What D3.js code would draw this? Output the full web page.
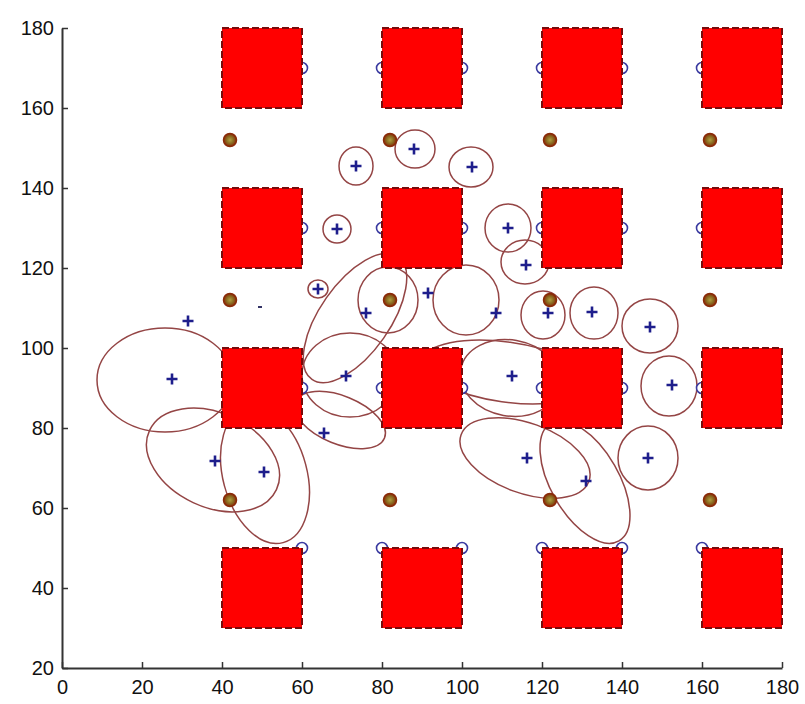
<!DOCTYPE html>
<html><head><meta charset="utf-8">
<script src="https://cdn.jsdelivr.net/npm/d3@7"></script>
<style>html,body{margin:0;padding:0;background:#fff;}</style>
</head><body>
<svg id="c" width="805" height="704"></svg>
<script>
// ---- data ----
const xTicks = [0,20,40,60,80,100,120,140,160,180];
const yTicks = [20,40,60,80,100,120,140,160,180];
// obstacle squares: [x0, x1] and [y0, y1] in data units
const squareXs = [[40,60],[80,100],[120,140],[160,180]];
const squareYs = [[30,50],[80,100],[120,140],[160,180]];
// anchor circles
const anchorXs = [60,80,100,120,140,160];
const anchorYs = [170,130,90,50];
// olive beacons
const beaconXs = [42,82,122,162];
const beaconYs = [152,112,62];
// estimated positions (plus markers)
const estX = [73.5,88,102.5,68.75,111.5,116,64,76,91.5,108.5,121.5,132.5,147,152.5,146.5,131,116.25,112.5,71,65.5,50.5,38.25,27.5,31.5];
const estY = [145.5,149.75,145.25,129.75,130,120.75,114.75,108.75,113.75,108.75,108.75,109,105.25,90.75,72.5,66.75,72.5,93,93,78.75,69,71.75,92.25,106.75];
// faint tiny estimate
const faintX = [49.5];
const faintY = [110.25];
// uncertainty ellipses: centre, semi-axes (data units), rotation (deg, ccw)
const ellCX = [73.5,88.25,102.25,68.75,111.5,115.75,64,81.5,101,120.25,133,147,151.75,146.5,130.75,115.75,112,111,73.25,72,69.5,25.75,37.75,50.75];
const ellCY = [145.5,149.75,145.25,129.75,130,121.5,114.75,112,112,108.25,108.75,105.5,90.5,72.5,66.5,72.5,92.5,94,107.5,93.25,82,92,72,68.25];
const ellRX = [4.25,5,5.5,3.5,5.75,6,2.5,7.5,8.25,5.5,6,7,7,7.5,17,17,12.5,21,18.75,12,12,17,17.5,10.5];
const ellRY = [4.75,4.75,5,3.5,6,5.5,2.25,8.25,8.75,6,6.5,6.75,7.5,8,8.5,8.75,9.5,7.5,8.75,10.5,6,13,11.75,17.5];
const ellA  = [0,0,0,0,0,0,0,0,0,0,0,0,0,0,-60,-20,-10,-8,55,0,-22,0,-25,15];

// ---- chart ----
const svg = d3.select('#c');
const x = d3.scaleLinear().domain([0,180]).range([62,782]);
const y = d3.scaleLinear().domain([20,180]).range([668,28]);

// ellipses
const ells = d3.range(ellCX.length).map(i => ({cx:ellCX[i],cy:ellCY[i],rx:ellRX[i],ry:ellRY[i],a:ellA[i]}));
svg.append('g').selectAll('ellipse').data(ells).join('ellipse')
  .attr('transform', d => `translate(${x(d.cx)},${y(d.cy)}) rotate(${-d.a})`)
  .attr('rx', d => x(d.rx) - x(0))
  .attr('ry', d => y(0) - y(d.ry))
  .attr('fill','none').attr('stroke','#944545').attr('stroke-width',1.5);

// anchor circles
const anchors = anchorYs.flatMap(yy => anchorXs.map(xx => ({x:xx,y:yy})));
svg.append('g').selectAll('circle').data(anchors).join('circle')
  .attr('cx', d => x(d.x)).attr('cy', d => y(d.y)).attr('r', 5.5)
  .attr('fill','#fff').attr('stroke','#3a3aa0').attr('stroke-width',1.6);

// squares
const squares = squareYs.flatMap(sy => squareXs.map(sx => ({x0:sx[0],x1:sx[1],y0:sy[0],y1:sy[1]})));
svg.append('g').selectAll('rect').data(squares).join('rect')
  .attr('x', d => x(d.x0)).attr('y', d => y(d.y1))
  .attr('width', d => x(d.x1) - x(d.x0)).attr('height', d => y(d.y0) - y(d.y1))
  .attr('fill','#ff0000').attr('stroke','#7a0a0a').attr('stroke-width',2)
  .attr('stroke-dasharray','7,3');

// beacons
const defs = svg.append('defs');
const rg = defs.append('radialGradient').attr('id','bg');
rg.append('stop').attr('offset','0%').attr('stop-color','#b0a040');
rg.append('stop').attr('offset','55%').attr('stop-color','#8a6a20');
rg.append('stop').attr('offset','100%').attr('stop-color','#8a2a08');
const beacons = beaconYs.flatMap(yy => beaconXs.map(xx => ({x:xx,y:yy})));
svg.append('g').selectAll('circle').data(beacons).join('circle')
  .attr('cx', d => x(d.x)).attr('cy', d => y(d.y)).attr('r', 6.5)
  .attr('fill','url(#bg)').attr('stroke','#8a2a08').attr('stroke-width',1.5);

// plus markers
const ests = estX.map((v,i) => ({x:v,y:estY[i]}));
svg.append('g').selectAll('path').data(ests).join('path')
  .attr('d', d => `M${x(d.x)-5.5},${y(d.y)}h11M${x(d.x)},${y(d.y)-5.5}v11`)
  .attr('stroke','#1e1e8c').attr('stroke-width',2.6).attr('fill','none');
const faint = faintX.map((v,i) => ({x:v,y:faintY[i]}));
svg.append('g').selectAll('path').data(faint).join('path')
  .attr('d', d => `M${x(d.x)-2},${y(d.y)}h4`)
  .attr('stroke','#333366').attr('stroke-width',2).attr('fill','none');

// axes
const xAxis = d3.axisBottom(x).tickValues(xTicks).tickSizeInner(-6).tickSizeOuter(0).tickPadding(12);
const yAxis = d3.axisLeft(y).tickValues(yTicks).tickSizeInner(-6).tickSizeOuter(0).tickPadding(13);
const gx = svg.append('g').attr('transform','translate(0,668)').call(xAxis);
const gy = svg.append('g').attr('transform','translate(62,0)').call(yAxis);
[gx,gy].forEach(g => {
  g.select('.domain').attr('stroke','#333').attr('stroke-width',2);
  g.selectAll('.tick line').attr('stroke','#333').attr('stroke-width',1.5);
  g.selectAll('text').attr('font-family','Liberation Sans, Arial, sans-serif').attr('font-size',20).attr('fill','#111');
});
gy.selectAll('text').attr('dx', 5);
</script>
</body></html>
